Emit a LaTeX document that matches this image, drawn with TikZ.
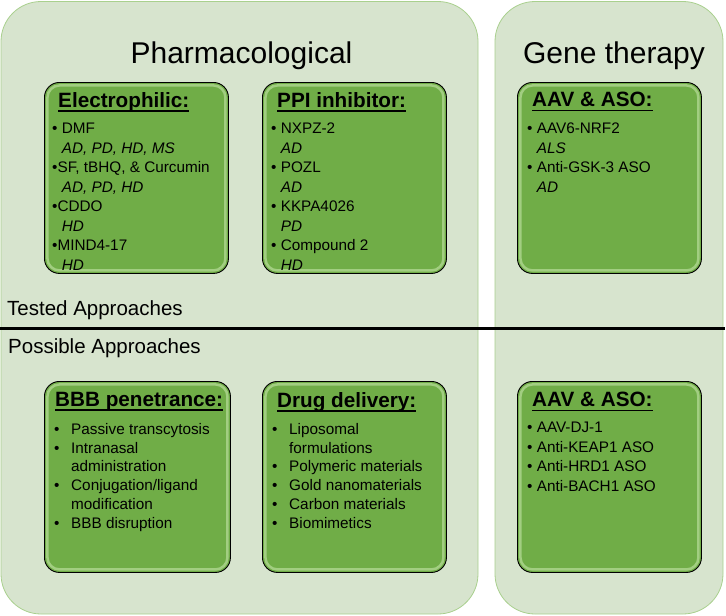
\documentclass[tikz,border=0pt]{standalone}
\usepackage{fontspec}
\setmainfont{Liberation Sans}
\usetikzlibrary{positioning}
\definecolor{panelfill}{RGB}{215,228,206}
\definecolor{paneldraw}{RGB}{169,208,142}
\definecolor{grpgreen}{RGB}{112,173,71}
\definecolor{grpglow}{RGB}{196,228,168}
\newcommand{\grphead}[1]{\setbox0\hbox{#1}\rlap{\rule[-4.5pt]{\wd0}{1.5pt}}\box0}
\newcommand{\dis}[1]{\phantom{\textbullet\ }\textit{#1}}
\newcommand{\hbul}{\makebox[17pt][l]{\textbullet}}
\newcommand{\hind}{\hspace*{17pt}}

\begin{document}
\begin{tikzpicture}[
    x=1pt, y=1pt,
    panel/.style={draw=paneldraw, line width=0.8pt, fill=panelfill, rounded corners=40pt},
    grpbox/.style={rectangle, rounded corners=15pt, draw=black, line width=0.9pt, fill=grpgreen,
        minimum width=184pt, minimum height=191pt, anchor=north west, inner sep=0pt,
        path picture={\draw[grpglow, line width=2.5pt, rounded corners=12pt, opacity=0.6]
            ([shift={(3pt,3pt)}]path picture bounding box.south west) rectangle
            ([shift={(-3pt,-3pt)}]path picture bounding box.north east);}},
    grptitle/.style={inner sep=0pt, font={\fontsize{20.7}{24}\selectfont\bfseries}},
    grplist/.style={inner sep=0pt, align=left, font={\fontsize{15.3}{19.5}\selectfont}},
    grplistb/.style={grplist, font={\fontsize{15.3}{18.8}\selectfont}},
    headtitle/.style={inner sep=0pt, anchor=base, font={\fontsize{30}{36}\selectfont}},
    sidelabel/.style={inner sep=0pt, anchor=base west, font={\fontsize{20.5}{24}\selectfont}}
]
\useasboundingbox (0,0) rectangle (726,-616);

% Background panels
\draw[panel] (1,-1.5) rectangle (478,-614);
\draw[panel] (495,-1.5) rectangle (723,-614);

% Column headings
\node[headtitle] (pharm) at (241.5,-63) {Pharmacological};
\node[headtitle] (gene) at (614,-63) {Gene therapy};

% Divider between tested and possible approaches
\coordinate (divl) at (0,-328);
\coordinate (divr) at (725,-328);
\draw[line width=3pt] (divl) -- (divr);
\node[sidelabel] (tested) at (7,-315) {Tested Approaches};
\node[sidelabel] (possible) at (8,-353) {Possible Approaches};

% Tested approaches
\node[grpbox] (elec) at (44,-82) {};
\node[grptitle, below right=10pt and 14pt of elec.north west] (electitle) {\grphead{Electrophilic:}};
\node[grplist, below right=41pt and 8pt of elec.north west] (eleclist)
    {\textbullet\ DMF\\ \dis{AD, PD, HD, MS}\\ \textbullet SF, tBHQ, \& Curcumin\\ \dis{AD, PD, HD}\\
     \textbullet CDDO\\ \dis{HD}\\ \textbullet MIND4-17\\ \dis{HD}};

\node[grpbox] (ppi) at (262,-82) {};
\node[grptitle, below right=10pt and 15pt of ppi.north west] (ppititle) {\grphead{PPI inhibitor:}};
\node[grplist, below right=41pt and 9pt of ppi.north west] (ppilist)
    {\textbullet\ NXPZ-2\\ \dis{AD}\\ \textbullet\ POZL\\ \dis{AD}\\
     \textbullet\ KKPA4026\\ \dis{PD}\\ \textbullet\ Compound 2\\ \dis{HD}};

\node[grpbox] (aavt) at (517,-82) {};
\node[grptitle, below right=10pt and 15pt of aavt.north west] (aavttitle) {\grphead{AAV \& ASO:}};
\node[grplist, below right=41pt and 10pt of aavt.north west] (aavtlist)
    {\textbullet\ AAV6-NRF2\\ \dis{ALS}\\ \textbullet\ Anti-GSK-3 ASO\\ \dis{AD}};

% Possible approaches
\node[grpbox, minimum width=186pt] (bbb) at (44,-381) {};
\node[grptitle, below right=11pt and 11pt of bbb.north west] (bbbtitle) {\grphead{BBB penetrance:}};
\node[grplistb, below right=42pt and 10pt of bbb.north west] (bbblist)
    {\hbul Passive transcytosis\\ \hbul Intranasal\\ \hind administration\\
     \hbul Conjugation/ligand\\ \hind modification\\ \hbul BBB disruption};

\node[grpbox] (drug) at (262,-381) {};
\node[grptitle, below right=11pt and 15pt of drug.north west] (drugtitle) {\grphead{Drug delivery:}};
\node[grplistb, below right=42pt and 10pt of drug.north west] (druglist)
    {\hbul Liposomal\\ \hind formulations\\ \hbul Polymeric materials\\
     \hbul Gold nanomaterials\\ \hbul Carbon materials\\ \hbul Biomimetics};

\node[grpbox] (aavp) at (517,-381) {};
\node[grptitle, below right=11pt and 15pt of aavp.north west] (aavptitle) {\grphead{AAV \& ASO:}};
\node[grplist, below right=41pt and 10pt of aavp.north west] (aavplist)
    {\textbullet\ AAV-DJ-1\\ \textbullet\ Anti-KEAP1 ASO\\ \textbullet\ Anti-HRD1 ASO\\ \textbullet\ Anti-BACH1 ASO};

\end{tikzpicture}
\end{document}
